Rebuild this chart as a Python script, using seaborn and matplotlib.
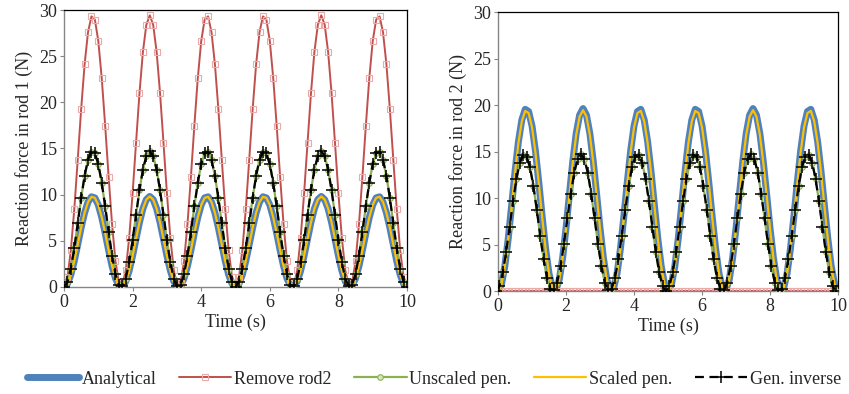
import numpy as np
import pandas as pd
import matplotlib
matplotlib.use("Agg")
import matplotlib.pyplot as plt
import seaborn as sns

# time grid (s), sampled every 0.1 s
time = np.round(np.arange(0, 101) * 0.1, 1)

# normalised sin^2-like pulse, 0..5 s (repeats for 5..10 s)
pulse = [0.000, 0.035, 0.136, 0.287, 0.469, 0.655, 0.819, 0.938, 0.996, 0.984,
         0.905, 0.768, 0.594, 0.406, 0.232, 0.095, 0.016, 0.004, 0.062, 0.181,
         0.345, 0.531, 0.713, 0.865, 0.965, 1.000, 0.965, 0.865, 0.713, 0.531,
         0.345, 0.181, 0.062, 0.004, 0.016, 0.095, 0.232, 0.406, 0.594, 0.768,
         0.905, 0.984, 0.996, 0.938, 0.819, 0.655, 0.469, 0.287, 0.136, 0.035,
         0.000]
pulse_10s = np.array(pulse + pulse[1:])

# peak reaction forces (N)
peaks_rod1 = [9.81, 29.43, 14.7, 9.81, 14.7]
peaks_rod2 = [19.62, 0.0, 14.7, 19.45, 14.7]
lead_rod2_pen = [0.0, 0.0, 0.06, 0.0, 0.06]   # small phase lead of pen. curves in rod 2

series = ["Analytical", "Remove rod2", "Unscaled pen.", "Scaled pen.", "Gen. inverse"]

styles = {
    "Analytical":    dict(color="#4F81BD", linewidth=5.0, zorder=1,
                          solid_capstyle="round"),
    "Remove rod2":   dict(color="#C0504D", linewidth=1.4, marker="s", markersize=4.5,
                          markerfacecolor="none", markeredgecolor="#EBA9A8",
                          markeredgewidth=0.8, zorder=2),
    "Unscaled pen.": dict(color="#8CB050", linewidth=1.6, marker="o", markersize=4,
                          markerfacecolor="#D8E6BC", markeredgecolor="#8CB050",
                          markeredgewidth=0.8, zorder=3),
    "Scaled pen.":   dict(color="#FFC000", linewidth=1.6, zorder=4),
    "Gen. inverse":  dict(color="black", linewidth=1.6, linestyle=(0, (4, 2.5)),
                          marker="+", markersize=8, markeredgecolor="black",
                          markeredgewidth=1.1, zorder=5),
}

sns.set_style("ticks")
plt.rcParams["font.family"] = ["Liberation Serif", "DejaVu Serif"]
FS = 13


def build_frame(peaks, leads):
    rows = []
    for name, peak, lead in zip(series, peaks, leads):
        rows.append(pd.DataFrame({"series": name,
                                  "time": time - lead,
                                  "force": peak * pulse_10s}))
    return pd.concat(rows, ignore_index=True)


df1 = build_frame(peaks_rod1, [0.0] * 5)
df2 = build_frame(peaks_rod2, lead_rod2_pen)

fig = plt.figure(figsize=(8.49, 3.94), dpi=100)
ax1 = fig.add_axes([0.0754, 0.2716, 0.404, 0.703])
ax2 = fig.add_axes([0.5866, 0.2614, 0.4005, 0.708])

for ax, df, ylab in [(ax1, df1, "Reaction force in rod 1 (N)"),
                     (ax2, df2, "Reaction force in rod 2 (N)")]:
    for name in series:
        sub = df[df["series"] == name]
        sns.lineplot(data=sub, x="time", y="force", ax=ax, sort=False,
                     estimator=None, label=name, legend=False, **styles[name])
    ax.set_xlim(0, 10)
    ax.set_ylim(0, 30)
    ax.set_xticks([0, 2, 4, 6, 8, 10])
    ax.set_yticks([0, 5, 10, 15, 20, 25, 30])
    ax.set_xlabel("Time (s)", fontsize=FS, labelpad=2)
    ax.set_ylabel(ylab, fontsize=FS, labelpad=4)
    ax.tick_params(labelsize=FS, color="#868686", length=3, width=0.8, pad=2)
    for s in ["left", "bottom"]:
        ax.spines[s].set_color("#868686")
        ax.spines[s].set_linewidth(1.0)
    for s in ["top", "right"]:
        ax.spines[s].set_color("black")
        ax.spines[s].set_linewidth(0.9)
        ax.spines[s].set_visible(True)

handles, labels = ax1.get_legend_handles_labels()
fig.legend(handles, labels, loc="lower center", ncol=5, bbox_to_anchor=(0.511, -0.025),
           frameon=False, handlelength=2.9, columnspacing=1.25, handletextpad=0.15,
           fontsize=FS)

fig.savefig("out.png", dpi=100)
